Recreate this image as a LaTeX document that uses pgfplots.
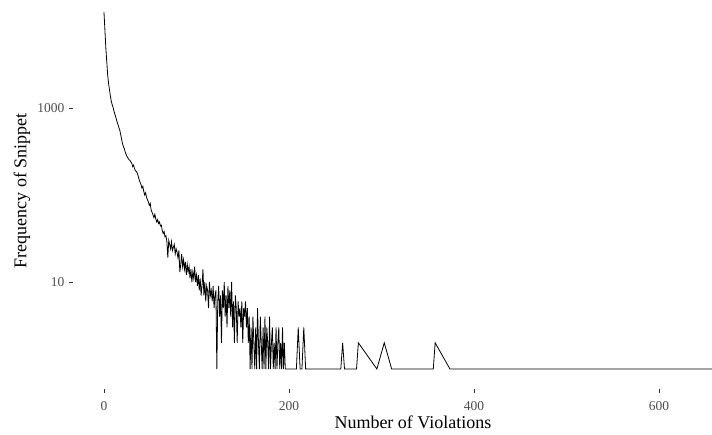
\documentclass[border=0pt]{standalone}
\usepackage{pgfplots}
\pgfplotsset{compat=1.18}
\usepackage{fontspec}
\setmainfont{Liberation Serif}
\definecolor{tickgrey}{HTML}{4D4D4D}
\definecolor{tickmark}{HTML}{333333}
\begin{document}
\begin{tikzpicture}
\begin{axis}[
  at={(0,0)}, anchor=south west,
  scale only axis, width=639pt, height=389pt,
  xmin=-33.5, xmax=657.3,
  ymode=log, ymin=0.589, ymax=17400,
  axis line style={draw=none},
  xtick={0,200,400,600}, xticklabels={0,200,400,600},
  ytick={10,1000}, yticklabels={10,1000},
  minor tick num=0, minor ytick={},
  xtick pos=left, ytick pos=left,
  tick align=outside, major tick length=4pt,
  tick style={tickmark, line width=0.8pt},
  ticklabel style={font=\fontsize{13.5}{14}\selectfont, text=tickgrey},
  xticklabel style={yshift=-5pt},
  yticklabel style={xshift=-1pt},
  /pgf/number format/assume math mode=true,
  xlabel={Number of Violations}, ylabel={Frequency of Snippet},
  label style={font=\fontsize{18}{20}\selectfont},
  xlabel style={at={(axis description cs:0.532,0)}, anchor=base, yshift=-39pt},
  ylabel style={at={(axis description cs:0,0.51)}, anchor=center, yshift=51pt},
  clip=true,
]
\addplot[black, line width=0.8pt, no markers] coordinates {
(0,12600)(1,7900)(2,4900)(3,3400)(4,2400)(5,1900)(6,1600)(7,1350)(8,1180)(9,1080)
(10,1000)(11,900)(12,830)(13,770)(14,700)(15,650)(16,600)(17,560)(18,500)(19,440)
(20,390)(21,360)(22,340)(23,310)(24,290)(25,275)(26,265)(27,255)(28,250)(29,240)
(30,232)(31,212)(32,220)(33,200)(34,190)(35,186)(36,178)(37,165)(38,150)(39,140)
(40,132)(41,120)(42,126)(43,110)(44,100)(45,106)(46,94)(47,88)(48,83)(49,76)
(50,80)(51,67)(52,63)(53,59)(54,55)(55,60)(56,53)(57,49)(58,52)(59,47)
(60,49)(61,44)(62,45)(63,39)(64,36)(65,38)(66,33)(67,34)(68,29)(69,19)
(70,30)(71,27)(72,24)(73,29)(74,23)(75,25)(76,27)(77,21)(78,24)(79,22)
(80,19)(81,23)(82,13)(83,16)(84,21)(85,15)(86,18)(87,14)(88,17)(89,12)
(90,16)(91,13)(92,15)(93,11)(94,14)(95,10)(96,13)(97,11)(98,15)(99,10)
(100,12)(101,9)(102,12)(103,8)(104,11)(105,7)(106,9)(107,14)(108,7)(109,10)
(110,6)(111,9)(112,8)(113,5)(114,10)(115,7)(116,8)(117,6)(118,9)(119,5)
(120,7)(121,8)(122,1)(123,6)(124,9)(125,4)(126,7)(127,2)(128,8)(129,5)
(130,10)(131,4)(132,7)(133,3)(134,9)(135,5)(136,8)(137,4)(138,10)(139,3)
(140,6)(141,2)(142,7)(143,5)(144,2)(145,6)(146,4)(147,5)(148,3)(149,6)
(150,2)(151,5)(152,4)(153,6)(154,3)(155,5)(156,2)(157,4)(158,1)(159,3)
(160,1)(161,4)(162,2)(163,1)(164,3)(165,1)(166,5)(167,2)(168,1)(169,4)
(170,2)(171,1)(172,3)(173,1)(174,4)(175,1)(176,3)(177,2)(178,1)(179,4)
(180,1)(181,2)(182,3)(183,1)(184,2)(185,1)(186,3)(187,1)(188,2)(189,3)
(190,1)(191,2)(192,1)(193,3)(194,1)(195,2)(196,1)(197,1)(199,1)(208,1)
(210,3)(212,1)(214,1)(216,3)(218,1)(256,1)(258,2)(260,1)(273,1)(275,2)
(295,1)(303,2)(311,1)(356,1)(358,2)(374,1)(700,1)
};
\end{axis}
\pgfresetboundingbox
\path[use as bounding box] (-73pt,-45pt) rectangle (639pt,389pt);
\end{tikzpicture}
\end{document}
